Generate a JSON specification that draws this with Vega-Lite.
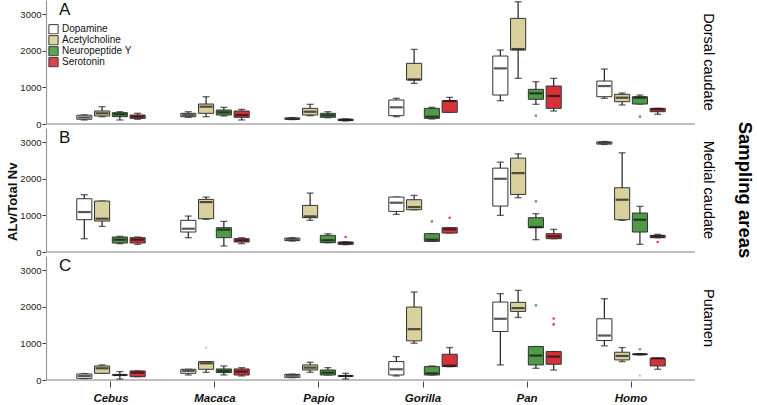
{
  "$schema": "https://vega.github.io/schema/vega-lite/v6.json",
  "padding": {"left": 6, "top": 0, "right": 0, "bottom": 0},
  "title": {"text": "ALv/Total Nv", "orient": "left", "anchor": "middle", "fontSize": 13, "fontWeight": "bold", "font": "Liberation Sans", "offset": 0, "color": "#111"},
  "config": {
    "view": {"stroke": null},
    "font": "Liberation Sans",
    "axis": {"labelFont": "Liberation Sans", "grid": false}
  },
  "data": {"values": [
    {"kind":"letter","area":"Dorsal caudate","letter":"A"},
    {"kind":"letter","area":"Medial caudate","letter":"B"},
    {"kind":"letter","area":"Putamen","letter":"C"},

    {"kind":"box","area":"Dorsal caudate","species":"Cebus","nt":"Dopamine","lo":110,"q1":130,"med":180,"q3":240,"hi":250},
    {"kind":"box","area":"Dorsal caudate","species":"Cebus","nt":"Acetylcholine","lo":200,"q1":218,"med":292,"q3":355,"hi":473},
    {"kind":"box","area":"Dorsal caudate","species":"Cebus","nt":"Neuropeptide Y","lo":110,"q1":200,"med":265,"q3":310,"hi":336},
    {"kind":"box","area":"Dorsal caudate","species":"Cebus","nt":"Serotonin","lo":128,"q1":155,"med":200,"q3":246,"hi":292},
    {"kind":"box","area":"Dorsal caudate","species":"Macaca","nt":"Dopamine","lo":183,"q1":200,"med":246,"q3":292,"hi":336},
    {"kind":"box","area":"Dorsal caudate","species":"Macaca","nt":"Acetylcholine","lo":200,"q1":292,"med":473,"q3":546,"hi":746},
    {"kind":"box","area":"Dorsal caudate","species":"Macaca","nt":"Neuropeptide Y","lo":219,"q1":246,"med":319,"q3":382,"hi":456},
    {"kind":"box","area":"Dorsal caudate","species":"Macaca","nt":"Serotonin","lo":110,"q1":183,"med":246,"q3":355,"hi":400},
    {"kind":"box","area":"Dorsal caudate","species":"Papio","nt":"Dopamine","lo":120,"q1":128,"med":145,"q3":165,"hi":175},
    {"kind":"box","area":"Dorsal caudate","species":"Papio","nt":"Acetylcholine","lo":228,"q1":246,"med":336,"q3":428,"hi":538},
    {"kind":"box","area":"Dorsal caudate","species":"Papio","nt":"Neuropeptide Y","lo":173,"q1":183,"med":237,"q3":292,"hi":336},
    {"kind":"box","area":"Dorsal caudate","species":"Papio","nt":"Serotonin","lo":85,"q1":92,"med":115,"q3":130,"hi":140},
    {"kind":"box","area":"Dorsal caudate","species":"Gorilla","nt":"Dopamine","lo":200,"q1":228,"med":456,"q3":656,"hi":702},
    {"kind":"box","area":"Dorsal caudate","species":"Gorilla","nt":"Acetylcholine","lo":1111,"q1":1202,"med":1220,"q3":1658,"hi":2040},
    {"kind":"box","area":"Dorsal caudate","species":"Gorilla","nt":"Neuropeptide Y","lo":137,"q1":155,"med":200,"q3":428,"hi":456},
    {"kind":"box","area":"Dorsal caudate","species":"Gorilla","nt":"Serotonin","lo":319,"q1":319,"med":628,"q3":638,"hi":729},
    {"kind":"box","area":"Dorsal caudate","species":"Pan","nt":"Dopamine","lo":637,"q1":792,"med":1521,"q3":1858,"hi":2022},
    {"kind":"box","area":"Dorsal caudate","species":"Pan","nt":"Acetylcholine","lo":1248,"q1":2022,"med":2049,"q3":2888,"hi":3342},
    {"kind":"box","area":"Dorsal caudate","species":"Pan","nt":"Neuropeptide Y","lo":538,"q1":675,"med":838,"q3":948,"hi":1156},
    {"kind":"box","area":"Dorsal caudate","species":"Pan","nt":"Serotonin","lo":355,"q1":428,"med":765,"q3":1038,"hi":1248},
    {"kind":"box","area":"Dorsal caudate","species":"Homo","nt":"Dopamine","lo":702,"q1":746,"med":1038,"q3":1175,"hi":1503},
    {"kind":"box","area":"Dorsal caudate","species":"Homo","nt":"Acetylcholine","lo":519,"q1":609,"med":719,"q3":811,"hi":847},
    {"kind":"box","area":"Dorsal caudate","species":"Homo","nt":"Neuropeptide Y","lo":546,"q1":546,"med":719,"q3":746,"hi":792},
    {"kind":"box","area":"Dorsal caudate","species":"Homo","nt":"Serotonin","lo":265,"q1":336,"med":400,"q3":428,"hi":428},

    {"kind":"box","area":"Medial caudate","species":"Cebus","nt":"Dopamine","lo":364,"q1":883,"med":1092,"q3":1456,"hi":1565},
    {"kind":"box","area":"Medial caudate","species":"Cebus","nt":"Acetylcholine","lo":700,"q1":846,"med":910,"q3":1392,"hi":1392},
    {"kind":"box","area":"Medial caudate","species":"Cebus","nt":"Neuropeptide Y","lo":228,"q1":246,"med":337,"q3":410,"hi":428},
    {"kind":"box","area":"Medial caudate","species":"Cebus","nt":"Serotonin","lo":209,"q1":246,"med":337,"q3":391,"hi":410},
    {"kind":"box","area":"Medial caudate","species":"Macaca","nt":"Dopamine","lo":391,"q1":546,"med":637,"q3":865,"hi":983},
    {"kind":"box","area":"Medial caudate","species":"Macaca","nt":"Acetylcholine","lo":892,"q1":910,"med":1365,"q3":1438,"hi":1502},
    {"kind":"box","area":"Medial caudate","species":"Macaca","nt":"Neuropeptide Y","lo":164,"q1":391,"med":610,"q3":664,"hi":837},
    {"kind":"box","area":"Medial caudate","species":"Macaca","nt":"Serotonin","lo":228,"q1":273,"med":319,"q3":364,"hi":391},
    {"kind":"box","area":"Medial caudate","species":"Papio","nt":"Dopamine","lo":300,"q1":310,"med":346,"q3":380,"hi":391},
    {"kind":"box","area":"Medial caudate","species":"Papio","nt":"Acetylcholine","lo":865,"q1":937,"med":974,"q3":1274,"hi":1611},
    {"kind":"box","area":"Medial caudate","species":"Papio","nt":"Neuropeptide Y","lo":255,"q1":255,"med":320,"q3":455,"hi":500},
    {"kind":"box","area":"Medial caudate","species":"Papio","nt":"Serotonin","lo":200,"q1":209,"med":246,"q3":273,"hi":280},
    {"kind":"box","area":"Medial caudate","species":"Gorilla","nt":"Dopamine","lo":1028,"q1":1110,"med":1347,"q3":1502,"hi":1502},
    {"kind":"box","area":"Medial caudate","species":"Gorilla","nt":"Acetylcholine","lo":1156,"q1":1156,"med":1229,"q3":1429,"hi":1547},
    {"kind":"box","area":"Medial caudate","species":"Gorilla","nt":"Neuropeptide Y","lo":291,"q1":291,"med":337,"q3":500,"hi":500},
    {"kind":"box","area":"Medial caudate","species":"Gorilla","nt":"Serotonin","lo":519,"q1":519,"med":619,"q3":664,"hi":664},
    {"kind":"box","area":"Medial caudate","species":"Pan","nt":"Dopamine","lo":1001,"q1":1256,"med":2002,"q3":2293,"hi":2457},
    {"kind":"box","area":"Medial caudate","species":"Pan","nt":"Acetylcholine","lo":1483,"q1":1574,"med":2157,"q3":2566,"hi":2684},
    {"kind":"box","area":"Medial caudate","species":"Pan","nt":"Neuropeptide Y","lo":337,"q1":664,"med":683,"q3":937,"hi":1047},
    {"kind":"box","area":"Medial caudate","species":"Pan","nt":"Serotonin","lo":364,"q1":364,"med":428,"q3":500,"hi":619},
    {"kind":"box","area":"Medial caudate","species":"Homo","nt":"Dopamine","lo":2939,"q1":2950,"med":2985,"q3":3010,"hi":3021},
    {"kind":"box","area":"Medial caudate","species":"Homo","nt":"Acetylcholine","lo":865,"q1":883,"med":1429,"q3":1756,"hi":2712},
    {"kind":"box","area":"Medial caudate","species":"Homo","nt":"Neuropeptide Y","lo":209,"q1":546,"med":883,"q3":1065,"hi":1247},
    {"kind":"box","area":"Medial caudate","species":"Homo","nt":"Serotonin","lo":391,"q1":391,"med":428,"q3":455,"hi":482},

    {"kind":"box","area":"Putamen","species":"Cebus","nt":"Dopamine","lo":40,"q1":46,"med":110,"q3":165,"hi":175},
    {"kind":"box","area":"Putamen","species":"Cebus","nt":"Acetylcholine","lo":183,"q1":183,"med":320,"q3":384,"hi":412},
    {"kind":"box","area":"Putamen","species":"Cebus","nt":"Neuropeptide Y","lo":27,"q1":130,"med":137,"q3":145,"hi":229},
    {"kind":"box","area":"Putamen","species":"Cebus","nt":"Serotonin","lo":91,"q1":91,"med":201,"q3":247,"hi":247},
    {"kind":"box","area":"Putamen","species":"Macaca","nt":"Dopamine","lo":137,"q1":183,"med":247,"q3":293,"hi":293},
    {"kind":"box","area":"Putamen","species":"Macaca","nt":"Acetylcholine","lo":210,"q1":293,"med":457,"q3":503,"hi":503},
    {"kind":"box","area":"Putamen","species":"Macaca","nt":"Neuropeptide Y","lo":137,"q1":201,"med":247,"q3":302,"hi":384},
    {"kind":"box","area":"Putamen","species":"Macaca","nt":"Serotonin","lo":110,"q1":137,"med":229,"q3":302,"hi":338},
    {"kind":"box","area":"Putamen","species":"Papio","nt":"Dopamine","lo":65,"q1":73,"med":119,"q3":155,"hi":160},
    {"kind":"box","area":"Putamen","species":"Papio","nt":"Acetylcholine","lo":210,"q1":274,"med":338,"q3":412,"hi":485},
    {"kind":"box","area":"Putamen","species":"Papio","nt":"Neuropeptide Y","lo":137,"q1":137,"med":201,"q3":274,"hi":338},
    {"kind":"box","area":"Putamen","species":"Papio","nt":"Serotonin","lo":27,"q1":100,"med":110,"q3":120,"hi":183},
    {"kind":"box","area":"Putamen","species":"Gorilla","nt":"Dopamine","lo":110,"q1":137,"med":293,"q3":503,"hi":640},
    {"kind":"box","area":"Putamen","species":"Gorilla","nt":"Acetylcholine","lo":1006,"q1":1070,"med":1390,"q3":1994,"hi":2405},
    {"kind":"box","area":"Putamen","species":"Gorilla","nt":"Neuropeptide Y","lo":137,"q1":137,"med":183,"q3":366,"hi":384},
    {"kind":"box","area":"Putamen","species":"Gorilla","nt":"Serotonin","lo":366,"q1":366,"med":393,"q3":704,"hi":887},
    {"kind":"box","area":"Putamen","species":"Pan","nt":"Dopamine","lo":412,"q1":1326,"med":1674,"q3":2131,"hi":2360},
    {"kind":"box","area":"Putamen","species":"Pan","nt":"Acetylcholine","lo":1710,"q1":1875,"med":1966,"q3":2122,"hi":2451},
    {"kind":"box","area":"Putamen","species":"Pan","nt":"Neuropeptide Y","lo":320,"q1":412,"med":668,"q3":915,"hi":915},
    {"kind":"box","area":"Putamen","species":"Pan","nt":"Serotonin","lo":274,"q1":430,"med":640,"q3":777,"hi":777},
    {"kind":"box","area":"Putamen","species":"Homo","nt":"Dopamine","lo":933,"q1":1079,"med":1216,"q3":1674,"hi":2222},
    {"kind":"box","area":"Putamen","species":"Homo","nt":"Acetylcholine","lo":503,"q1":549,"med":658,"q3":759,"hi":887},
    {"kind":"box","area":"Putamen","species":"Homo","nt":"Neuropeptide Y","lo":690,"q1":695,"med":704,"q3":712,"hi":720},
    {"kind":"box","area":"Putamen","species":"Homo","nt":"Serotonin","lo":293,"q1":384,"med":594,"q3":594,"hi":594},

    {"kind":"out","area":"Dorsal caudate","species":"Pan","nt":"Neuropeptide Y","v":228,"type":"outlier"},
    {"kind":"out","area":"Dorsal caudate","species":"Homo","nt":"Neuropeptide Y","v":200,"type":"outlier"},
    {"kind":"out","area":"Medial caudate","species":"Papio","nt":"Serotonin","v":410,"type":"outlier"},
    {"kind":"out","area":"Medial caudate","species":"Gorilla","nt":"Neuropeptide Y","v":837,"type":"outlier"},
    {"kind":"out","area":"Medial caudate","species":"Gorilla","nt":"Serotonin","v":937,"type":"outlier"},
    {"kind":"out","area":"Medial caudate","species":"Pan","nt":"Neuropeptide Y","v":1383,"type":"outlier"},
    {"kind":"out","area":"Medial caudate","species":"Homo","nt":"Serotonin","v":273,"type":"outlier"},
    {"kind":"out","area":"Putamen","species":"Macaca","nt":"Acetylcholine","v":887,"type":"outlier"},
    {"kind":"out","area":"Putamen","species":"Pan","nt":"Neuropeptide Y","v":2040,"type":"outlier"},
    {"kind":"out","area":"Putamen","species":"Pan","nt":"Serotonin","v":1680,"type":"outlier"},
    {"kind":"out","area":"Putamen","species":"Pan","nt":"Serotonin","v":1520,"type":"outlier"},
    {"kind":"out","area":"Putamen","species":"Homo","nt":"Neuropeptide Y","v":840,"type":"outlier"},
    {"kind":"out","area":"Putamen","species":"Homo","nt":"Neuropeptide Y","v":118,"type":"extreme"}
  ]},
  "facet": {
    "row": {
      "field": "area", "type": "nominal",
      "sort": ["Dorsal caudate", "Medial caudate", "Putamen"],
      "title": "Sampling areas",
      "header": {
        "labelOrient": "right", "labelAngle": 90, "labelFontSize": 14.5, "labelFont": "Liberation Sans", "labelColor": "#000", "labelPadding": 4,
        "titleOrient": "right", "titleAngle": 90, "titleFontSize": 18.5, "titleFontWeight": "bold", "titleFont": "Liberation Sans", "titleColor": "#000", "titlePadding": 9
      }
    }
  },
  "spacing": {"row": 3},
  "spec": {
    "width": 648,
    "height": 124,
    "encoding": {
      "x": {
        "field": "species", "type": "nominal",
        "sort": ["Cebus", "Macaca", "Papio", "Gorilla", "Pan", "Homo"],
        "scale": {"paddingInner": 0, "paddingOuter": 0.115},
        "axis": {"title": null, "domain": false, "labelAngle": 0, "labelFontSize": 11.5, "labelFontWeight": "bold", "labelFontStyle": "italic", "labelColor": "#111", "tickSize": 6, "tickColor": "#444", "labelPadding": 5}
      }
    },
    "layer": [
      {
        "transform": [{"filter": "datum.kind == 'letter'"}],
        "mark": {"type": "rule", "color": "#aaa", "strokeWidth": 1.5},
        "encoding": {"x": null, "y": {"datum": 0, "type": "quantitative", "scale": {"domain": [0, 3390], "nice": false}}}
      },
      {
        "transform": [{"filter": "datum.kind == 'box'"}],
        "mark": {"type": "rule", "color": "#222", "strokeWidth": 1.2},
        "encoding": {
          "xOffset": {"field": "nt", "type": "nominal", "sort": ["Dopamine", "Acetylcholine", "Neuropeptide Y", "Serotonin"], "scale": {"paddingInner": 0.15, "paddingOuter": 1.4}},
          "y": {"field": "lo", "type": "quantitative", "scale": {"domain": [0, 3390], "nice": false},
            "axis": {"title": null, "values": [0, 1000, 2000, 3000], "format": "d", "labelFontSize": 9.5, "labelColor": "#222", "tickSize": 4, "tickColor": "#444", "domainColor": "#999", "domainWidth": 1.2, "labelPadding": 1}},
          "y2": {"field": "hi"}
        }
      },
      {
        "transform": [{"filter": "datum.kind == 'box'"}],
        "mark": {"type": "tick", "color": "#222", "thickness": 1.3, "size": 7},
        "encoding": {
          "xOffset": {"field": "nt", "type": "nominal", "sort": ["Dopamine", "Acetylcholine", "Neuropeptide Y", "Serotonin"]},
          "y": {"field": "lo", "type": "quantitative"}
        }
      },
      {
        "transform": [{"filter": "datum.kind == 'box'"}],
        "mark": {"type": "tick", "color": "#222", "thickness": 1.3, "size": 7},
        "encoding": {
          "xOffset": {"field": "nt", "type": "nominal", "sort": ["Dopamine", "Acetylcholine", "Neuropeptide Y", "Serotonin"]},
          "y": {"field": "hi", "type": "quantitative"}
        }
      },
      {
        "transform": [{"filter": "datum.kind == 'box'"}],
        "mark": {"type": "bar", "stroke": "#333", "strokeWidth": 1},
        "encoding": {
          "xOffset": {"field": "nt", "type": "nominal", "sort": ["Dopamine", "Acetylcholine", "Neuropeptide Y", "Serotonin"]},
          "y": {"field": "q1", "type": "quantitative"},
          "y2": {"field": "q3"},
          "fill": {
            "field": "nt", "type": "nominal",
            "sort": ["Dopamine", "Acetylcholine", "Neuropeptide Y", "Serotonin"],
            "scale": {"domain": ["Dopamine", "Acetylcholine", "Neuropeptide Y", "Serotonin"], "range": ["#ffffff", "#d8d19e", "#4e9a46", "#d7323a"]},
            "legend": {"title": null, "orient": "none", "legendX": 1, "legendY": 24, "symbolType": "square", "symbolSize": 85, "symbolStrokeColor": "#222", "symbolStrokeWidth": 1, "labelFontSize": 10, "labelFont": "Liberation Sans", "labelColor": "#111", "rowPadding": 0, "clipHeight": 10.5, "labelOffset": 3}
          }
        }
      },
      {
        "transform": [{"filter": "datum.kind == 'box'"}],
        "mark": {"type": "tick", "color": "#111", "thickness": 2.2, "size": 13},
        "encoding": {
          "xOffset": {"field": "nt", "type": "nominal", "sort": ["Dopamine", "Acetylcholine", "Neuropeptide Y", "Serotonin"]},
          "y": {"field": "med", "type": "quantitative"}
        }
      },
      {
        "transform": [{"filter": "datum.kind == 'out'"}],
        "mark": {"type": "point", "filled": true, "size": 7, "opacity": 0.9},
        "encoding": {
          "xOffset": {"field": "nt", "type": "nominal", "sort": ["Dopamine", "Acetylcholine", "Neuropeptide Y", "Serotonin"]},
          "y": {"field": "v", "type": "quantitative"},
          "fill": {"field": "nt", "type": "nominal"},
          "shape": {"field": "type", "type": "nominal", "scale": {"domain": ["outlier", "extreme"], "range": ["circle", "M0,-1L0.22,-0.3L0.95,-0.31L0.36,0.12L0.59,0.81L0,0.38L-0.59,0.81L-0.36,0.12L-0.95,-0.31L-0.22,-0.3Z"]}, "legend": null}
        }
      },
      {
        "transform": [{"filter": "datum.kind == 'letter'"}],
        "mark": {"type": "text", "fontSize": 17, "align": "left", "baseline": "middle", "color": "#111", "font": "Liberation Sans"},
        "encoding": {
          "x": {"datum": "Cebus", "type": "nominal", "bandPosition": 0},
          "y": {"datum": 3130, "type": "quantitative"},
          "text": {"field": "letter"}
        }
      }
    ]
  }
}
